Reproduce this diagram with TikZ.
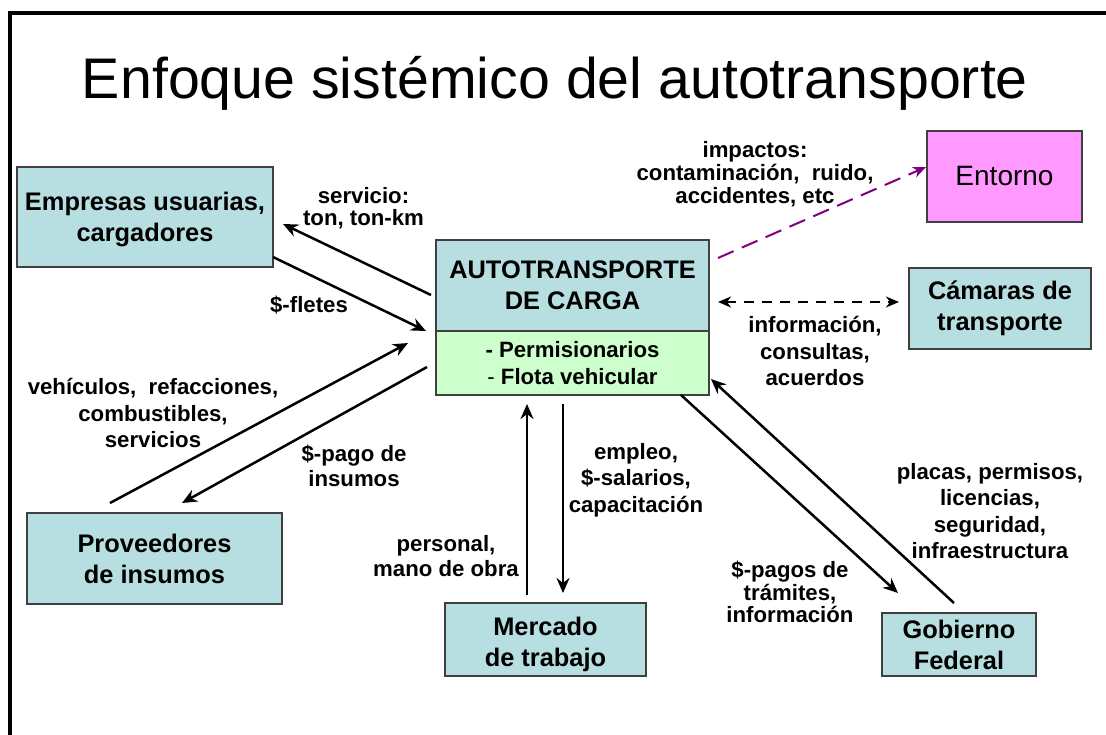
\documentclass[tikz,border=0pt]{standalone}
\usepackage{fontspec}
\setmainfont{Liberation Sans}
\usetikzlibrary{arrows.meta}
\definecolor{boxblue}{HTML}{B7DEE0}
\definecolor{boxgreen}{HTML}{CCFFCC}
\definecolor{boxpink}{HTML}{FF99FF}
\definecolor{impact}{HTML}{800080}
\newcommand\boxfont{\bfseries\fontsize{25.4}{31}\selectfont}
\newcommand\lblfont{\bfseries\fontsize{22.2}{26.5}\selectfont}
\begin{document}
\begin{tikzpicture}[x=1pt,y=-1pt,
  box/.style={draw=black!75, line width=1.3pt, fill=boxblue, align=center, inner sep=0pt, font=\boxfont},
  lbl/.style={align=center, inner sep=0pt, font=\lblfont},
  tip/.style={Stealth[length=15pt,width=13pt,inset=5pt]},
  arr/.style={line width=2.5pt, -{Stealth[length=15pt,width=13pt,inset=5pt]}}]
\useasboundingbox (0,0) rectangle (1106,734);
\fill[white] (0,0) rectangle (1106,734);
% frame
\draw[line width=3.5pt] (10,740) -- (10,13) -- (1110,13);
% title
\node[anchor=base, inner sep=0pt, font=\fontsize{57.3}{60}\selectfont] (title) at (555,98) {Enfoque sistémico del autotransporte};
% boxes
\node[box, minimum width=256pt, minimum height=100pt] (emp) at (145,217) {\rule{0pt}{24pt}Empresas usuarias,\\cargadores};
\node[box, minimum width=273pt, minimum height=91pt] (autotop) at (572.5,285.5) {AUTOTRANSPORTE\\DE CARGA};
\node[box, fill=boxgreen, minimum width=273pt, minimum height=64pt, font=\lblfont, align=center] (autobot) at (572.5,363) {- Permisionarios\\{\mdseries -} Flota vehicular};
\node[box, fill=boxpink, minimum width=155pt, minimum height=91pt, font=\fontsize{28}{32}\selectfont] (ent) at (1004.5,176.5) {Entorno};
\node[box, minimum width=182pt, minimum height=81pt] (cam) at (1000,308.5) {Cámaras de\\transporte};
\node[box, minimum width=255pt, minimum height=91pt] (prov) at (154.5,558.5) {Proveedores\\de insumos};
\node[box, minimum width=201pt, minimum height=73pt] (merc) at (545.5,639.5) {\rule{0pt}{28.5pt}Mercado\\de trabajo};
\node[box, minimum width=154pt, minimum height=63pt] (gob) at (959,644.5) {Gobierno\\Federal};
% labels
\node[lbl, font=\bfseries\fontsize{22.2}{22.5}\selectfont] (lserv) at (363.5,208) {servicio:\\ton, ton-km};
\node[lbl] (lflet) at (309,305) {\$-fletes};
\node[lbl, font=\bfseries\fontsize{22.2}{23}\selectfont] (limp) at (755,174) {impactos:\\contaminación,~ ruido,\\accidentes, etc};
\node[lbl] (linf) at (815,351) {información,\\consultas,\\acuerdos};
\node[lbl] (lveh) at (153,413) {vehículos,~ refacciones,\\combustibles,\\servicios};
\node[lbl, font=\bfseries\fontsize{22.2}{25}\selectfont] (lpago) at (354,466) {\$-pago de\\insumos};
\node[lbl, font=\bfseries\fontsize{22.2}{25.5}\selectfont] (lpers) at (446,556) {personal,\\mano de obra};
\node[lbl] (lemp) at (636,480) {empleo,\\\$-salarios,\\capacitación};
\node[lbl] (lplac) at (990,511) {placas, permisos,\\licencias,\\seguridad,\\infraestructura};
\node[lbl, font=\bfseries\fontsize{22.2}{22.5}\selectfont] (lpagos) at (790,592) {\$-pagos de\\trámites,\\información};
% connector end points
\coordinate (a1s) at (431,295); \coordinate (a1e) at (283,224);
\coordinate (a2s) at (273,257); \coordinate (a2e) at (426,331);
\coordinate (a3s) at (110,503); \coordinate (a3e) at (408,343);
\coordinate (a4s) at (427,367); \coordinate (a4e) at (182,503);
\coordinate (a5s) at (527,595); \coordinate (a5e) at (527,404);
\coordinate (a6s) at (563,404); \coordinate (a6e) at (563,593);
\coordinate (a7s) at (681,395); \coordinate (a7e) at (898,593);
\coordinate (a8s) at (954,603); \coordinate (a8e) at (711,379);
\coordinate (a9s) at (718,302); \coordinate (a9e) at (899,302);
\coordinate (a10s) at (718,258); \coordinate (a10e) at (926,167);
% connectors
\draw[arr] (a1s) -- (a1e);
\draw[arr] (a2s) -- (a2e);
\draw[arr] (a3s) -- (a3e);
\draw[arr] (a4s) -- (a4e);
\draw[arr] (a5s) -- (a5e);
\draw[arr] (a6s) -- (a6e);
\draw[arr] (a7s) -- (a7e);
\draw[arr] (a8s) -- (a8e);
\draw[line width=2pt, dash pattern=on 10pt off 8pt, {Stealth[length=13pt,width=11pt,inset=4pt]}-{Stealth[length=13pt,width=11pt,inset=4pt]}] (a9s) -- (a9e);
\draw[line width=2pt, impact, dash pattern=on 17pt off 9pt, -{Stealth[length=13pt,width=11pt,inset=4pt]}] (a10s) -- (a10e);
\end{tikzpicture}
\end{document}
